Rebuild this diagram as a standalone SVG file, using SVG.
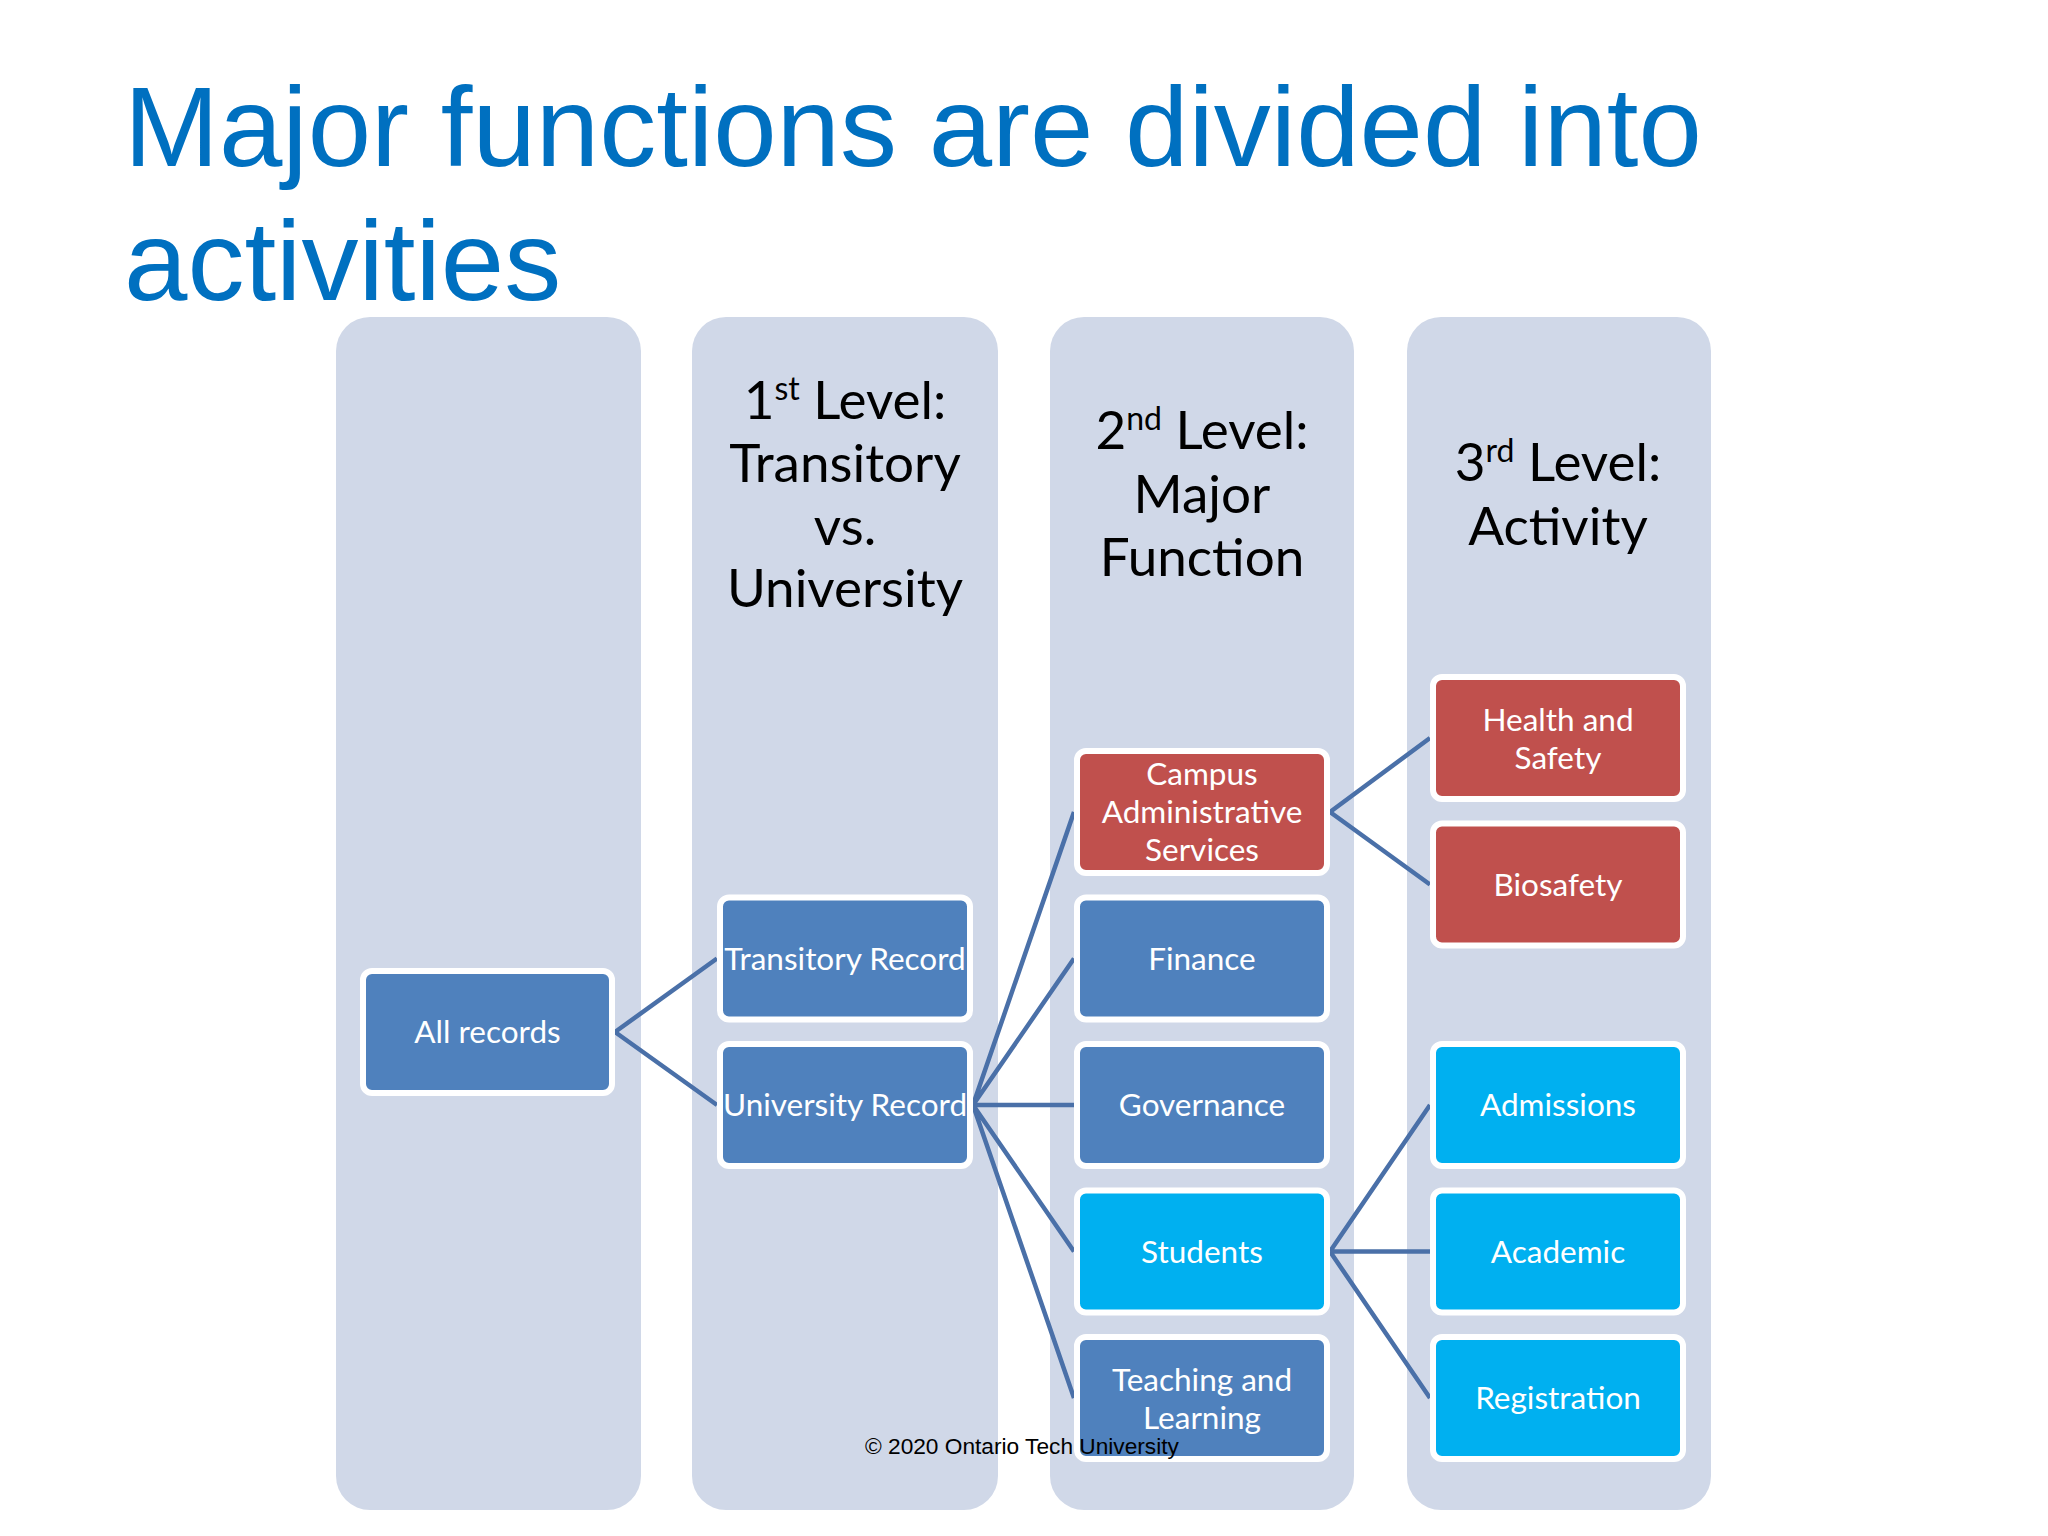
<svg xmlns="http://www.w3.org/2000/svg" width="2048" height="1536" viewBox="0 0 2048 1536">
<defs>
<style>
.col{fill:#D0D8E8;}
.hdr{font-family:Lato,"Open Sans","Liberation Sans",sans-serif;font-size:53px;fill:#000;text-anchor:middle;}
.sup{font-size:32px;}
.box{stroke:#FFFFFF;stroke-width:6;}
.blue{fill:#4F81BD;}
.red{fill:#C0504D;}
.cyan{fill:#00B0F0;}
.lbl{font-family:Lato,"Open Sans","Liberation Sans",sans-serif;font-size:31.5px;fill:#FFFFFF;text-anchor:middle;}
.conn{stroke:#4A70A8;stroke-width:4.5;fill:none;}
</style>
</defs>
<rect width="2048" height="1536" fill="#FFFFFF"/>
<text x="124" y="166" font-family="'Liberation Sans',Arial,sans-serif" font-size="114" fill="#0070C0">Major functions are divided into</text>
<text x="124" y="300" font-family="'Liberation Sans',Arial,sans-serif" font-size="114" fill="#0070C0">activities</text>

<g id="columns">
<rect class="col" x="336" y="317" width="305" height="1193" rx="34"/>
<rect class="col" x="692" y="317" width="306" height="1193" rx="34"/>
<rect class="col" x="1050" y="317" width="304" height="1193" rx="34"/>
<rect class="col" x="1407" y="317" width="304" height="1193" rx="34"/>
</g>

<g id="headers">
<text class="hdr" x="845" y="419">1<tspan class="sup" dy="-19">st</tspan><tspan dy="19"> Level:</tspan></text>
<text class="hdr" x="845" y="482">Transitory</text>
<text class="hdr" x="845" y="545">vs.</text>
<text class="hdr" x="845" y="607">University</text>
<text class="hdr" x="1202" y="449">2<tspan class="sup" dy="-19">nd</tspan><tspan dy="19"> Level:</tspan></text>
<text class="hdr" x="1202" y="513">Major</text>
<text class="hdr" x="1202" y="576">Function</text>
<text class="hdr" x="1558" y="481">3<tspan class="sup" dy="-19">rd</tspan><tspan dy="19"> Level:</tspan></text>
<text class="hdr" x="1558" y="545">Activity</text>
</g>

<g id="connectors">
<path class="conn" d="M615 1032 L717 958.5 M615 1032 L717 1105"/>
<path class="conn" d="M973 1105 L1074 812 M973 1105 L1074 958.5 M973 1105 L1074 1105 M973 1105 L1074 1251.5 M973 1105 L1074 1398"/>
<path class="conn" d="M1330 812 L1430 738 M1330 812 L1430 884.5"/>
<path class="conn" d="M1330 1251.5 L1430 1105 M1330 1251.5 L1430 1251.5 M1330 1251.5 L1430 1398"/>
</g>

<g id="all-records">
<rect class="box blue" x="363" y="971" width="249" height="122" rx="9"/>
<text class="lbl" x="487.5" y="1043">All records</text>
</g>
<g id="transitory-record">
<rect class="box blue" x="720" y="897.5" width="250" height="122" rx="9"/>
<text class="lbl" x="845" y="969.5">Transitory Record</text>
</g>
<g id="university-record">
<rect class="box blue" x="720" y="1044" width="250" height="122" rx="9"/>
<text class="lbl" x="845" y="1116">University Record</text>
</g>

<g id="campus-administrative-services">
<rect class="box red" x="1077" y="751" width="250" height="122" rx="9"/>
<text class="lbl" x="1202" y="785">Campus</text>
<text class="lbl" x="1202" y="823">Administrative</text>
<text class="lbl" x="1202" y="861">Services</text>
</g>
<g id="finance">
<rect class="box blue" x="1077" y="897.5" width="250" height="122" rx="9"/>
<text class="lbl" x="1202" y="969.5">Finance</text>
</g>
<g id="governance">
<rect class="box blue" x="1077" y="1044" width="250" height="122" rx="9"/>
<text class="lbl" x="1202" y="1116">Governance</text>
</g>
<g id="students">
<rect class="box cyan" x="1077" y="1190.5" width="250" height="122" rx="9"/>
<text class="lbl" x="1202" y="1262.5">Students</text>
</g>
<g id="teaching-and-learning">
<rect class="box blue" x="1077" y="1337" width="250" height="122" rx="9"/>
<text class="lbl" x="1202" y="1391">Teaching and</text>
<text class="lbl" x="1202" y="1429">Learning</text>
</g>

<g id="health-and-safety">
<rect class="box red" x="1433" y="677" width="250" height="122" rx="9"/>
<text class="lbl" x="1558" y="731">Health and</text>
<text class="lbl" x="1558" y="769">Safety</text>
</g>
<g id="biosafety">
<rect class="box red" x="1433" y="823.5" width="250" height="122" rx="9"/>
<text class="lbl" x="1558" y="895.5">Biosafety</text>
</g>
<g id="admissions">
<rect class="box cyan" x="1433" y="1044" width="250" height="122" rx="9"/>
<text class="lbl" x="1558" y="1116">Admissions</text>
</g>
<g id="academic">
<rect class="box cyan" x="1433" y="1190.5" width="250" height="122" rx="9"/>
<text class="lbl" x="1558" y="1262.5">Academic</text>
</g>
<g id="registration">
<rect class="box cyan" x="1433" y="1337" width="250" height="122" rx="9"/>
<text class="lbl" x="1558" y="1409">Registration</text>
</g>

<text x="865" y="1454" font-family="'Liberation Sans',Arial,sans-serif" font-size="22.7" fill="#000000">© 2020 Ontario Tech University</text>
</svg>
